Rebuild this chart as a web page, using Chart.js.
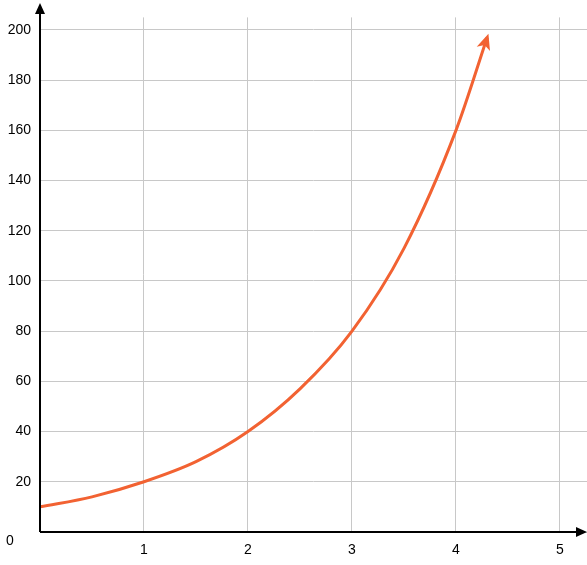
<!DOCTYPE html>
<html><head><meta charset="utf-8">
<script src="https://cdn.jsdelivr.net/npm/chart.js@4"></script>
<style>html,body{margin:0;padding:0;background:#fff}#w{width:587px;height:565px}</style>
</head><body><div id="w"><canvas id="c"></canvas></div>
<script>
const xValues = [0, 0.5, 1, 1.5, 2, 2.5, 3, 3.5, 4, 4.3];
const yValues = [10, 14, 20, 28, 40, 57, 80, 113, 160, 197];
const xTicks = [0, 1, 2, 3, 4, 5];
const yTicks = [0, 20, 40, 60, 80, 100, 120, 140, 160, 180, 200];
const lineColor = '#f26232';

const deco = {
  id: 'deco',
  afterDraw(chart) {
    const ctx = chart.ctx, x = chart.scales.x, y = chart.scales.y, a = chart.chartArea;
    const x0 = x.getPixelForValue(0), y0 = y.getPixelForValue(0);
    const top = 3;
    ctx.save();
    ctx.strokeStyle = '#000'; ctx.fillStyle = '#000'; ctx.lineWidth = 2;
    ctx.beginPath(); ctx.moveTo(x0, y0); ctx.lineTo(a.right - 4, y0); ctx.stroke();
    ctx.beginPath(); ctx.moveTo(x0, y0); ctx.lineTo(x0, top + 4); ctx.stroke();
    ctx.beginPath(); ctx.moveTo(a.right, y0); ctx.lineTo(a.right - 11, y0 - 5); ctx.lineTo(a.right - 11, y0 + 5); ctx.closePath(); ctx.fill();
    ctx.beginPath(); ctx.moveTo(x0, top); ctx.lineTo(x0 - 5, top + 11); ctx.lineTo(x0 + 5, top + 11); ctx.closePath(); ctx.fill();
    ctx.font = '14px "Liberation Sans", Arial'; ctx.textAlign = 'center'; ctx.textBaseline = 'middle';
    ctx.fillText('0', 10, 541);
    const n = xValues.length;
    const px = x.getPixelForValue(xValues[n-1]), py = y.getPixelForValue(yValues[n-1]);
    const qx = x.getPixelForValue(xValues[n-2]), qy = y.getPixelForValue(yValues[n-2]);
    const ang = Math.atan2(py - qy, px - qx);
    ctx.fillStyle = lineColor;
    ctx.translate(px, py); ctx.rotate(ang);
    ctx.beginPath(); ctx.moveTo(4, 0); ctx.lineTo(-12, -7); ctx.lineTo(-8, 0); ctx.lineTo(-12, 7); ctx.closePath(); ctx.fill();
    ctx.restore();
  }
};

new Chart(document.getElementById('c'), {
  type: 'line',
  data: { datasets: [{ data: xValues.map((v, i) => ({ x: v, y: yValues[i] })),
    borderColor: lineColor, borderWidth: 3, pointRadius: 0, cubicInterpolationMode: 'monotone', fill: false }] },
  options: {
    responsive: true, maintainAspectRatio: false, animation: false,
    layout: { padding: { top: -17, left: 0, right: 0, bottom: 0 } },
    plugins: { legend: { display: false }, tooltip: { enabled: false } },
    scales: {
      x: { type: 'linear', min: 0, max: 5.26,
        afterBuildTicks: s => { s.ticks = xTicks.map(v => ({ value: v })); },
        afterFit: s => { s.height = 33; },
        border: { display: false },
        grid: { color: '#c8c8c8', lineWidth: 1, drawTicks: false },
        ticks: { padding: 10, color: '#000', font: { size: 14, family: '"Liberation Sans", Arial' }, callback: v => v === 0 ? '' : v } },
      y: { min: 0, max: 205,
        afterBuildTicks: s => { s.ticks = yTicks.map(v => ({ value: v })); },
        afterFit: s => { s.width = 40; },
        border: { display: false },
        grid: { color: '#c8c8c8', lineWidth: 1, drawTicks: false },
        ticks: { padding: 9, color: '#000', font: { size: 14, family: '"Liberation Sans", Arial' }, callback: v => v === 0 ? '' : v } }
    }
  },
  plugins: [deco]
});
</script></body></html>
